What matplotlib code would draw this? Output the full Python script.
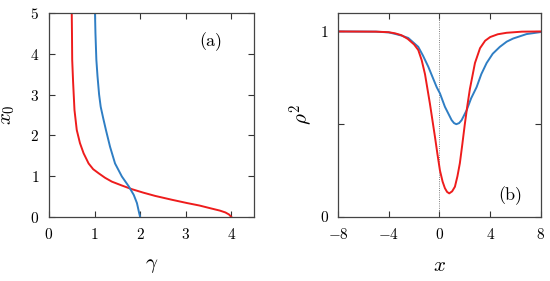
import numpy as np
import matplotlib
matplotlib.use('Agg')
import matplotlib.pyplot as plt

plt.rcParams['font.family'] = 'serif'
plt.rcParams['font.serif'] = ['cmr10']
plt.rcParams['mathtext.fontset'] = 'cm'
plt.rcParams['axes.formatter.use_mathtext'] = True

# panel (a): x0 vs gamma
gam_red = [0.50, 0.505, 0.51, 0.53, 0.56, 0.61, 0.68, 0.76, 0.87, 0.97, 1.09, 1.23, 1.38, 1.6, 1.82,
           2.07, 2.33, 2.7, 3.03, 3.3, 3.55, 3.75, 3.87, 3.95, 4.0]
x0_red = [5.0, 4.5, 3.85, 3.3, 2.62, 2.13, 1.81, 1.56, 1.31, 1.17, 1.07, 0.96, 0.865, 0.77, 0.68,
          0.595, 0.515, 0.42, 0.34, 0.28, 0.21, 0.155, 0.11, 0.06, 0.0]
gam_blue = [1.01, 1.02, 1.04, 1.065, 1.10, 1.135, 1.19, 1.25, 1.34, 1.45, 1.60, 1.75, 1.86, 1.93, 1.98, 2.0]
x0_blue = [5.0, 4.5, 3.85, 3.45, 3.0, 2.7, 2.42, 2.13, 1.72, 1.31, 0.99, 0.75, 0.54, 0.34, 0.09, 0.0]

# panel (b): rho^2 vs x
x_red = [-8, -5, -4, -3.5, -3, -2.5, -2, -1.67, -1.4, -1.14, -0.75, -0.55, -0.35, -0.15, 0.04, 0.25,
         0.43, 0.6, 0.77, 1.0, 1.22, 1.42, 1.61, 1.8, 2.0, 2.2, 2.4, 2.8, 3.2, 3.6, 4.0, 4.6, 5.3, 6.5, 8]
rho_red = [1.0, 0.999, 0.996, 0.99, 0.98, 0.96, 0.93, 0.90, 0.845, 0.77, 0.61, 0.52, 0.43, 0.335, 0.25, 0.19,
           0.155, 0.135, 0.127, 0.138, 0.163, 0.22, 0.29, 0.39, 0.50, 0.60, 0.69, 0.83, 0.91, 0.95, 0.97,
           0.985, 0.993, 0.999, 1.0]
x_blue = [-8, -5, -4, -3.5, -3, -2.46, -1.67, -1.3, -0.88, -0.22, 0.04, 0.43, 0.96, 1.15, 1.33, 1.55,
          1.75, 2.14, 2.5, 2.93, 3.3, 3.72, 4.2, 4.76, 5.3, 5.81, 6.87, 8]
rho_blue = [1.0, 0.999, 0.995, 0.987, 0.978, 0.965, 0.917, 0.87, 0.81, 0.70, 0.666, 0.594, 0.522, 0.506,
            0.50, 0.506, 0.522, 0.575, 0.64, 0.70, 0.77, 0.83, 0.88, 0.917, 0.945, 0.962, 0.986, 0.997]

red = '#ee1c1c'
blue = '#2f7ec4'

fig = plt.figure(figsize=(5.5, 2.81), dpi=100)
ax1 = fig.add_axes([0.089, 0.228, 0.373, 0.726])
ax2 = fig.add_axes([0.6145, 0.228, 0.369, 0.726])

ax1.plot(gam_red, x0_red, color=red, lw=1.4)
ax1.plot(gam_blue, x0_blue, color=blue, lw=1.4)
ax1.set_xlim(0, 4.5)
ax1.set_ylim(0, 5)
ax1.set_xticks([0, 1, 2, 3, 4])
ax1.set_yticks([0, 1, 2, 3, 4, 5])
ax1.set_xlabel(r'$\gamma$', fontsize=15, labelpad=11)
ax1.set_ylabel(r'$x_{\mathit{0}}$', fontsize=15, labelpad=9)
ax1.text(3.55, 4.29, '(a)', fontsize=13, ha='center', va='center')

ax2.axvline(0, color='#555555', lw=0.6, ls=':')
ax2.plot(x_blue, rho_blue, color=blue, lw=1.4)
ax2.plot(x_red, rho_red, color=red, lw=1.4)
ax2.set_xlim(-8, 8)
ax2.set_ylim(0, 1.1)
ax2.set_xticks([-8, -4, 0, 4, 8])
ax2.set_yticks([0, 0.5, 1])
ax2.set_yticklabels(['0', '', '1'])
ax2.set_xlabel(r'$x$', fontsize=15, labelpad=11)
ax2.set_ylabel(r'$\rho^2$', fontsize=15, labelpad=4)
ax2.text(5.55, 0.113, '(b)', fontsize=13, ha='center', va='center')

for ax in (ax1, ax2):
    ax.tick_params(direction='in', top=True, right=True, length=4, width=0.8,
                   labelsize=11, pad=7, color='#333333')
    for s in ax.spines.values():
        s.set_color('#444444')
        s.set_linewidth(0.9)

fig.savefig('out.png', dpi=100)
